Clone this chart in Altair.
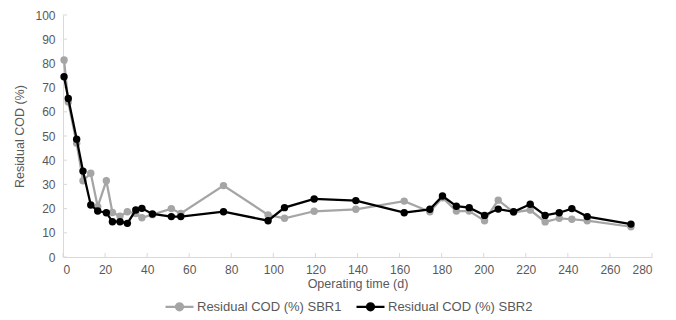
import altair as alt
import pandas as pd

days = [0.5, 2.5, 6.5, 9.5, 13.2, 16.5, 20.6, 23.5, 27.1, 30.6, 34.6, 37.5, 42.5, 51.5, 56,
        76.3, 97.5, 105.3, 119.4, 139.2, 162.2, 174.4, 180.4, 187, 193.1, 200.4, 206.9,
        214.2, 222.1, 229.2, 235.9, 241.9, 249.2, 270]
sbr1 = [81.4, 64, 47, 31.5, 34.6, 20.8, 31.5, 18.4, 16.9, 18.7, 18, 16.2, 17.5, 20, 18,
        29.5, 17.4, 16, 18.9, 19.7, 23.1, 18.7, 24.5, 19, 19, 15, 23.5, 18.5, 19.4, 14.5,
        16, 15.6, 15, 12.5]
sbr2 = [74.5, 65.5, 48.7, 35.5, 21.5, 19, 18.3, 14.6, 14.6, 13.9, 19.4, 20.1, 17.8, 16.7,
        16.7, 18.7, 15, 20.4, 24, 23.3, 18.3, 19.7, 25.2, 21, 20.4, 17.2, 19.8, 18.7, 21.8,
        17.2, 18.3, 20, 16.7, 13.6]
series_names = ["Residual COD (%) SBR1", "Residual COD (%) SBR2"]
series_colors = ["#a5a5a5", "#000000"]
x_ticks = list(range(0, 281, 20))
y_ticks = list(range(0, 101, 10))

rows = []
for name, vals in zip(series_names, [sbr1, sbr2]):
    for d, v in zip(days, vals):
        rows.append({"day": d, "cod": v, "series": name})
df = pd.DataFrame(rows)

W, H = 589, 242
FONT = "Liberation Sans"
TXT = "#595959"
AX = "#d9d9d9"

xs = alt.Scale(domain=[0, 280], nice=False)
ys = alt.Scale(domain=[0, 100], nice=False)
cs = alt.Scale(domain=series_names, range=series_colors)

sym = "M-1,0L1,0M-0.25,0A0.25,0.25,0,1,1,0.25,0A0.25,0.25,0,1,1,-0.25,0Z"
legend = alt.Legend(title=None, orient="none", direction="horizontal",
                    legendX=101, legendY=276,
                    symbolType=sym, symbolSize=784, symbolStrokeWidth=2.25,
                    labelFont=FONT, labelFontSize=13, labelColor=TXT,
                    columnPadding=10, labelOffset=2)

xaxis = alt.Axis(values=x_ticks, ticks=False, grid=False, domainColor=AX,
                 labelFont=FONT, labelFontSize=12, labelColor=TXT, labelPadding=7,
                 labelOverlap=False,
                 title="Operating time (d)", titleFont=FONT, titleFontSize=12.5,
                 titleFontWeight="normal", titleColor=TXT, titlePadding=2)
yaxis = alt.Axis(values=y_ticks, ticks=False, grid=False, domainColor=AX,
                 labelFont=FONT, labelFontSize=12, labelColor=TXT, labelPadding=8,
                 labelOverlap=False,
                 title="Residual COD (%)", titleFont=FONT, titleFontSize=12.5,
                 titleFontWeight="normal", titleColor=TXT, titlePadding=8)

xt = alt.Chart(pd.DataFrame({"t": x_ticks})).mark_rule(color=AX, strokeWidth=1).encode(
    x=alt.X("t:Q", scale=xs, axis=xaxis), y=alt.value(H), y2=alt.value(H - 4))
yt = alt.Chart(pd.DataFrame({"t": y_ticks})).mark_rule(color=AX, strokeWidth=1).encode(
    y=alt.Y("t:Q", scale=ys, axis=yaxis), x=alt.value(0), x2=alt.value(4))

layers = []
for name in series_names:
    base = alt.Chart(df).transform_filter(alt.datum.series == name)
    line = base.mark_line(strokeWidth=2.25).encode(
        x=alt.X("day:Q", scale=xs, axis=xaxis),
        y=alt.Y("cod:Q", scale=ys, axis=yaxis),
        color=alt.Color("series:N", scale=cs, legend=legend),
    )
    pts = base.mark_point(filled=True, size=55, opacity=1).encode(
        x=alt.X("day:Q", scale=xs, axis=xaxis),
        y=alt.Y("cod:Q", scale=ys, axis=yaxis),
        color=alt.Color("series:N", scale=cs, legend=legend),
    )
    layers += [line, pts]

chart = alt.layer(xt, yt, *layers).properties(
    width=W, height=H,
    padding={"left": 5, "top": 1, "right": 5, "bottom": 5},
).configure_view(stroke=None)

chart.save("out.html", embed_options={"renderer": "svg", "actions": False})
